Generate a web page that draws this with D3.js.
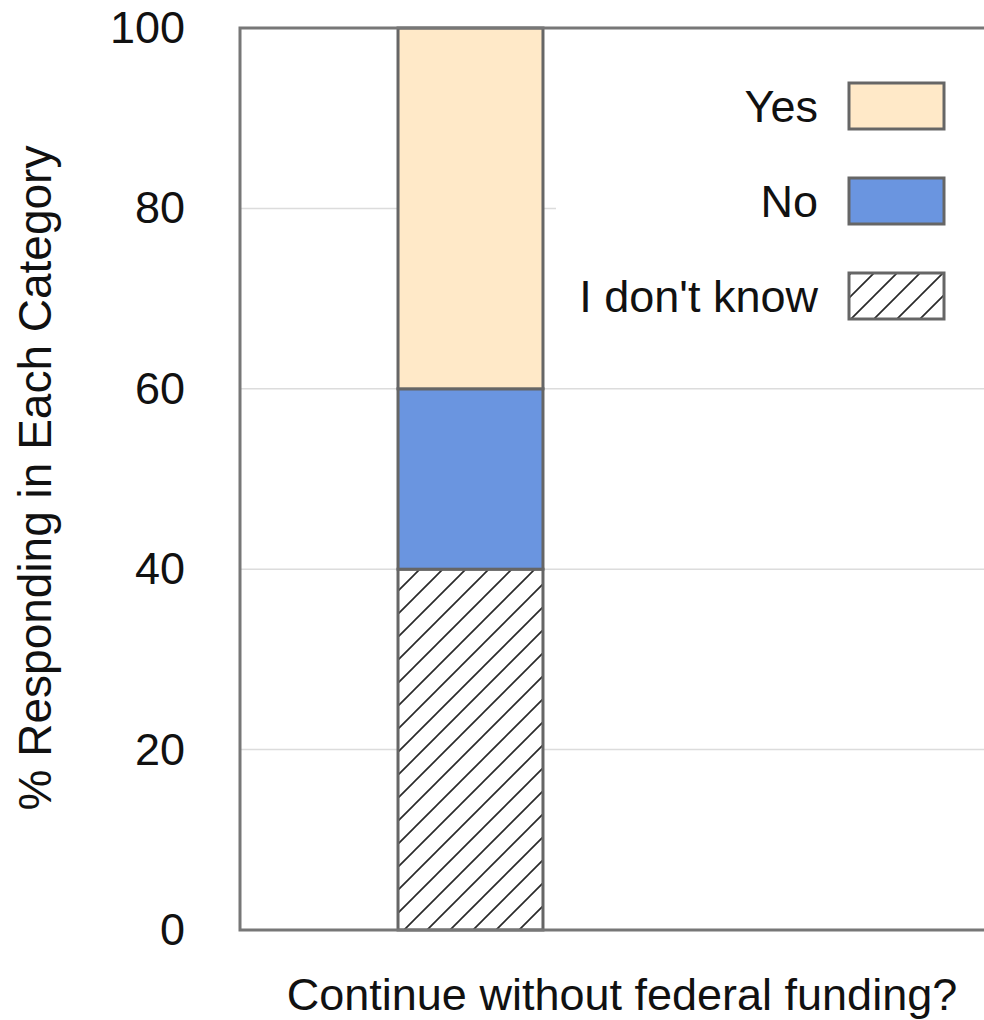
<!DOCTYPE html>
<html>
<head>
<meta charset="utf-8">
<script src="https://cdn.jsdelivr.net/npm/d3@7"></script>
<style>
  html, body { margin: 0; padding: 0; background: #fff; }
  svg { display: block; font-family: "Liberation Sans", Arial, sans-serif; }
</style>
</head>
<body>
<svg id="chart" width="984" height="1020"></svg>
<script>
// Survey responses for a single question, stacked to 100%
const categories = ["Continue without federal funding?"];
const seriesNames = ["I don't know", "No", "Yes"];
const idkValues = [40];
const noValues = [20];
const yesValues = [40];
const yTicks = [0, 20, 40, 60, 80, 100];
const legendOrder = ["Yes", "No", "I don't know"];

const fills = { "Yes": "#FFE9C8", "No": "#6A95E0", "I don't know": "url(#hatch)" };

const rows = categories.map((c, i) => ({
  category: c,
  "I don't know": idkValues[i],
  "No": noValues[i],
  "Yes": yesValues[i]
}));

const svg = d3.select("#chart");
const plotLeft = 240, plotTop = 28, plotBottom = 930, plotRight = 990;
const fontSize = 45;

const y = d3.scaleLinear().domain([0, 100]).range([plotBottom, plotTop]);
const x = d3.scaleBand().domain(categories).range([plotLeft, 701]).paddingInner(0).paddingOuter(1.09);

// hatch pattern for the "I don't know" segment
const defs = svg.append("defs");
const pat = defs.append("pattern")
  .attr("id", "hatch")
  .attr("patternUnits", "userSpaceOnUse")
  .attr("width", 23).attr("height", 23);
pat.append("rect").attr("width", 23).attr("height", 23).attr("fill", "#fff");
pat.append("path")
  .attr("d", "M-6,6 L6,-6 M0,23 L23,0 M17,29 L29,17")
  .attr("stroke", "#2a2a2a").attr("stroke-width", 1.7);

// gridlines
svg.append("g").selectAll("line")
  .data(yTicks.filter(t => t > 0 && t < 100))
  .join("line")
  .attr("x1", plotLeft).attr("x2", plotRight)
  .attr("y1", d => y(d)).attr("y2", d => y(d))
  .attr("stroke", "#dcdcdc").attr("stroke-width", 1.5);

// stacked bar
const stack = d3.stack().keys(seriesNames)(rows);
svg.append("g").selectAll("g")
  .data(stack)
  .join("g")
  .attr("fill", d => fills[d.key])
  .selectAll("rect")
  .data(d => d)
  .join("rect")
  .attr("x", d => x(d.data.category))
  .attr("width", x.bandwidth())
  .attr("y", d => y(d[1]))
  .attr("height", d => y(d[0]) - y(d[1]))
  .attr("stroke", "#666").attr("stroke-width", 3);

// legend background and entries
svg.append("rect")
  .attr("x", 556).attr("y", 45).attr("width", 440).attr("height", 320)
  .attr("fill", "#fff");

const legend = svg.append("g").selectAll("g")
  .data(legendOrder)
  .join("g")
  .attr("transform", (d, i) => `translate(0, ${106 + i * 95})`);
legend.append("rect")
  .attr("x", 849).attr("y", -23).attr("width", 95).attr("height", 46)
  .attr("fill", d => fills[d])
  .attr("stroke", "#666").attr("stroke-width", 3);
legend.append("text")
  .attr("x", 818).attr("y", 0).attr("dy", "0.35em")
  .attr("text-anchor", "end")
  .attr("font-size", fontSize).attr("fill", "#111")
  .text(d => d);

// frame: left axis, bottom axis, top border
svg.append("path")
  .attr("d", `M${plotRight},${plotTop} H${plotLeft} V${plotBottom} H${plotRight}`)
  .attr("fill", "none").attr("stroke", "#777").attr("stroke-width", 3);

// y axis labels
const yAxis = d3.axisLeft(y).tickValues(yTicks).tickSize(0).tickPadding(55);
const gy = svg.append("g").attr("transform", `translate(${plotLeft},0)`).call(yAxis);
gy.select(".domain").remove();
gy.selectAll("text").attr("font-size", fontSize).attr("fill", "#111")
  .attr("font-family", "Liberation Sans, Arial, sans-serif");

// axis titles
svg.append("text")
  .attr("transform", "translate(51,478) rotate(-90)")
  .attr("text-anchor", "middle")
  .attr("font-size", 46).attr("fill", "#111")
  .text("% Responding in Each Category");

svg.append("text")
  .attr("x", 622).attr("y", 1010)
  .attr("text-anchor", "middle")
  .attr("font-size", fontSize).attr("fill", "#111")
  .text(categories[0]);
</script>
</body>
</html>
